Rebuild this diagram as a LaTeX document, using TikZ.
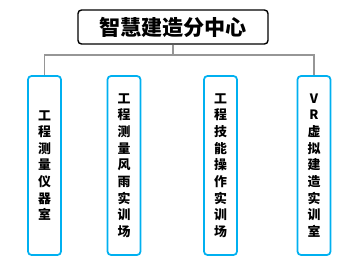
\documentclass[tikz,border=0pt]{standalone}
\usepackage{fontspec}
\newfontfamily\cjk{Noto Sans CJK SC}
\usetikzlibrary{positioning}
\definecolor{bleuCadre}{RGB}{0,176,240}
\definecolor{grisTrait}{RGB}{150,150,150}

\begin{document}
\begin{tikzpicture}[x=0.03cm, y=-0.03cm,
  centre/.style={draw=black, line width=1.2pt, rounded corners=3pt, minimum width=5.7cm, minimum height=1.02cm, inner sep=0pt, font=\cjk\bfseries\fontsize{18}{20}\selectfont},
  salle/.style={draw=bleuCadre, line width=1.5pt, rounded corners=3pt, minimum width=0.99cm, minimum height=5.37cm, align=center, inner sep=0pt, font=\cjk\bfseries\fontsize{11}{14.2}\selectfont},
  lien/.style={draw=grisTrait, line width=0.9pt}]

\useasboundingbox (0,0) rectangle (356,269);

\node[centre] (centre) at (173,27) {智慧建造分中心};

\node[salle] (s1) at (44.5,165.5) {工\\程\\测\\量\\仪\\器\\室};
\node[salle] (s2) at (124,165.5) {工\\程\\测\\量\\风\\雨\\实\\训\\场};
\node[salle] (s3) at (220.5,165.5) {工\\程\\技\\能\\操\\作\\实\\训\\场};
\node[salle] (s4) at (314,165.5) {V\\R\\虚\\拟\\建\\造\\实\\训\\室};

\coordinate (bus) at (173,55);
\draw[lien] (centre.south) -- (centre.south |- bus);
\draw[lien] (s1.north) |- (bus) -| (s4.north);

\end{tikzpicture}
\end{document}
